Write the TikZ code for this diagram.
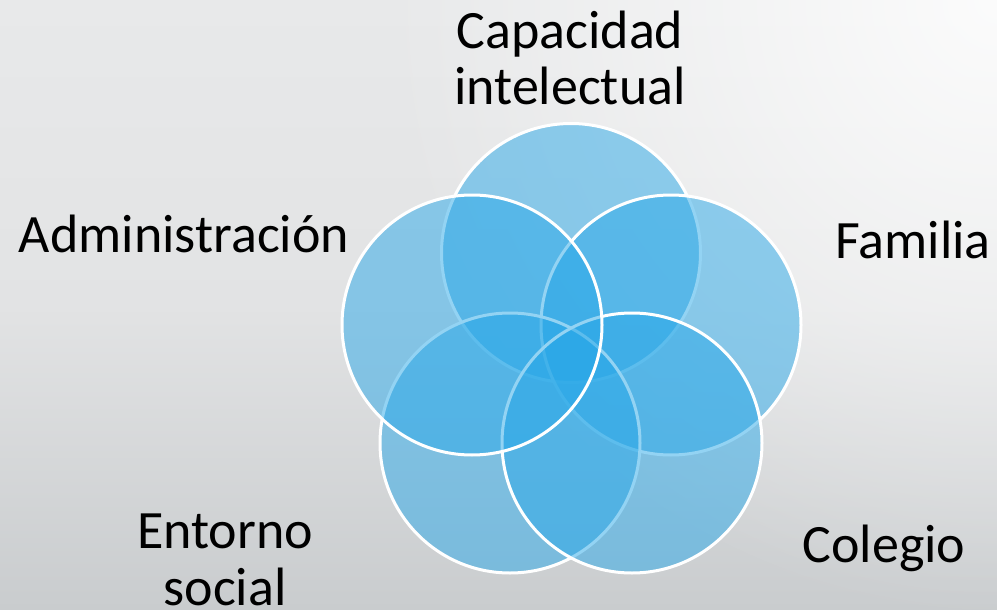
\documentclass[tikz,border=0pt]{standalone}
\usepackage{fontspec}
\setmainfont{Carlito}
\usetikzlibrary{fadings}
\definecolor{bgtop}{HTML}{E8E9EA}
\definecolor{bgmid}{HTML}{E2E3E4}
\definecolor{bgbot}{HTML}{C9CCCE}
\definecolor{venn}{RGB}{41,168,232}
\tikzfading[name=glowfade, inner color=transparent!0, outer color=transparent!100]
\tikzset{
  vcircle/.style={fill=venn, fill opacity=0.5, draw=white, draw opacity=1, line width=3pt},
  lbl/.style={font=\fontsize{54}{57}\selectfont, text=black, align=center, anchor=base, inner sep=0pt}
}
\begin{document}
\begin{tikzpicture}[x=1pt,y=-1pt]
\useasboundingbox (0,0) rectangle (997,610);
\shade[top color=bgtop, bottom color=bgbot, middle color=bgmid] (0,0) rectangle (997,610);
\begin{scope}
\clip (0,0) rectangle (997,610);
\fill[white, path fading=glowfade, fill opacity=0.85] (997,0) circle (620pt);
\end{scope}
% circles in drawing order
\path[vcircle] (571,253) circle (129.5pt);
\path[vcircle] (671,325) circle (130pt);
\path[vcircle] (510,443) circle (130pt);
\path[vcircle] (632,443) circle (130pt);
\path[vcircle] (472,325) circle (130pt);
% labels (multi-line nodes anchored at last line's baseline)
\node[lbl] (cap) at (570,105) {Capacidad\\intelectual};
\node[lbl] (adm) at (184,252) {Administración};
\node[lbl] (fam) at (913,258) {Familia};
\node[lbl] (col) at (884,562) {Colegio};
\node[lbl] (ent) at (225,605) {Entorno\\social};
\end{tikzpicture}
\end{document}
